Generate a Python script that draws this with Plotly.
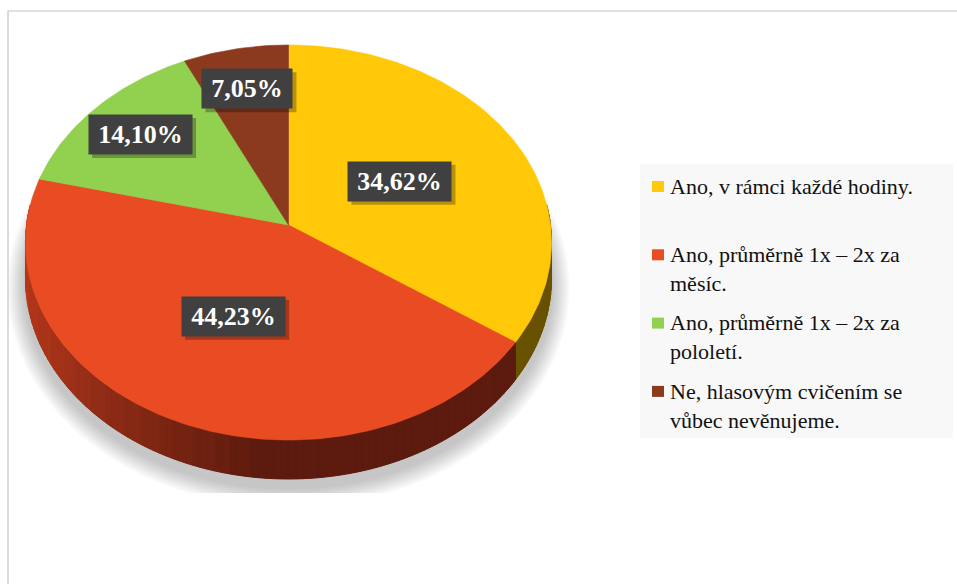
import numpy as np
import plotly.graph_objects as go

# ---- data -------------------------------------------------------------
categories = [
    "Ano, v rámci každé hodiny.",
    "Ano, průměrně 1x – 2x za měsíc.",
    "Ano, průměrně 1x – 2x za pololetí.",
    "Ne, hlasovým cvičením se vůbec nevěnujeme.",
]
shares = [34.62, 44.23, 14.10, 7.05]
legend_labels = [
    "Ano, v rámci každé hodiny.",
    "Ano, průměrně 1x – 2x za<br>měsíc.",
    "Ano, průměrně 1x – 2x za<br>pololetí.",
    "Ne, hlasovým cvičením se<br>vůbec nevěnujeme.",
]

# ---- styling ----------------------------------------------------------
SERIF = "Liberation Serif"
top_colors = ["#FFC90A", "#E94C23", "#92D050", "#8B3A1E"]
side_light = ["#7A6100", "#B5381B", "#5E8A2E", "#5A2412"]
side_dark = ["#685200", "#5C1B0E", "#4A6E24", "#4A1D0F"]

W, H = 957, 584
# plotting window in pixel units (also clips the cast shadow)
PX0, PX1, PY0, PY1 = 8, 600, 11, 493

# tilted disc: centre, radii, perspective strength and wall height
CX, CY = 288.5, 225.0
RX, RY = 262.0, 196.0
PERSP = 0.0886
DEPTH = 35.5


def project(theta, r=1.0, drop=0.0, grow=0.0):
    """Angle measured clockwise from 12 o'clock -> screen position."""
    t = np.radians(theta)
    u = r * np.sin(t)
    v = r * np.cos(t)
    w = 1 + PERSP * v
    x = CX + (RX + grow) * u / w
    y = CY + (-(RY + grow) * v + drop) / w
    return x, y


def hex2rgb(h):
    h = h.lstrip("#")
    return np.array([int(h[i:i + 2], 16) for i in (0, 2, 4)], dtype=float)


def mix(c1, c2, t):
    c = hex2rgb(c1) * (1 - t) + hex2rgb(c2) * t
    return "rgb(%d,%d,%d)" % tuple(np.round(c).astype(int))


total = sum(shares)
bounds = np.concatenate([[0], np.cumsum(shares) / total * 360.0])

fig = go.Figure()

# ---- soft cast shadow under the disc ----------------------------------
ang = np.linspace(0, 360, 181)
n_layers = 10
for j in range(n_layers):
    g = (n_layers - j) * 1.8
    sx, sy = project(ang, drop=DEPTH + 8, grow=g)
    fig.add_trace(go.Scatter(
        x=sx, y=sy, mode="lines", fill="toself",
        fillcolor="rgba(0,0,0,0.022)", line=dict(width=0),
        hoverinfo="skip", showlegend=False))

# ---- side wall: solid base + shaded strips grouped by tone ---------------
vis_lo, vis_hi = 84.0, 276.0
N_TONES = 16
for i in range(len(shares)):
    a0, a1 = max(bounds[i], vis_lo), min(bounds[i + 1], vis_hi)
    if a1 <= a0:
        continue
    arc = np.linspace(a0, a1, 80)
    xt, yt = project(arc)
    xb, yb = project(arc[::-1], drop=DEPTH)
    base = mix(side_light[i], side_dark[i], 0.6)
    fig.add_trace(go.Scatter(
        x=np.r_[xt, xb, xt[0]], y=np.r_[yt, yb, yt[0]], mode="lines",
        fill="toself", fillcolor=base, line=dict(width=0),
        hoverinfo="skip", showlegend=False))

    n = max(2, int(np.ceil((a1 - a0) / 1.5)))
    edges = np.linspace(a0, a1, n + 1)
    groups = {}
    for k in range(n):
        ta, tb = edges[k], edges[k + 1]
        seg = np.linspace(ta, tb, 4)
        xt, yt = project(seg)
        xb, yb = project(seg[::-1], drop=DEPTH)
        xm, _ = project((ta + tb) / 2)
        t = np.clip((xm - 25) / 235.0, 0, 1) ** 0.8
        tone = int(round(t * (N_TONES - 1)))
        gx, gy = groups.setdefault(tone, ([], []))
        gx.extend(list(np.r_[xt, xb, xt[0]]) + [None])
        gy.extend(list(np.r_[yt, yb, yt[0]]) + [None])
    for tone, (gx, gy) in groups.items():
        col = mix(side_light[i], side_dark[i], tone / (N_TONES - 1))
        fig.add_trace(go.Scatter(
            x=gx, y=gy, mode="lines", fill="toself", fillcolor=col,
            line=dict(width=1.0, color=col), hoverinfo="skip",
            showlegend=False))

# ---- top face slices --------------------------------------------------
cx0, cy0 = project(0.0, r=0.0)
for i, name in enumerate(categories):
    arc = np.linspace(bounds[i], bounds[i + 1], max(8, int(shares[i] * 4)))
    ax_, ay_ = project(arc)
    fig.add_trace(go.Scatter(
        x=np.r_[cx0, ax_, cx0], y=np.r_[cy0, ay_, cy0],
        mode="lines", fill="toself", fillcolor=top_colors[i],
        line=dict(width=0.6, color=top_colors[i]),
        name=name, text=f"{shares[i]:.2f} %", hoverinfo="name+text",
        showlegend=False))

# ---- value labels -------------------------------------------------------
shapes = []
for i, v in enumerate(shares):
    mid = (bounds[i] + bounds[i + 1]) / 2
    rr = 0.49 if v > 25 else 0.76
    lx, ly = project(mid, r=rr)
    label = f"{v:.2f}".replace(".", ",") + "%"
    bw = 13 * len(label) + 25
    bh = 39
    shapes.append(dict(
        type="rect", xref="x", yref="y", layer="above",
        x0=lx - bw / 2 + 3, x1=lx + bw / 2 + 4,
        y0=ly - bh / 2 + 3, y1=ly + bh / 2 + 4,
        fillcolor="rgba(0,0,0,0.28)", line=dict(width=0)))
    fig.add_annotation(
        x=lx, y=ly, xref="x", yref="y", text=f"<b>{label}</b>",
        showarrow=False, xanchor="center", yanchor="middle",
        width=bw - 4, height=bh - 4, borderpad=2,
        bgcolor="#404040",
        font=dict(family=SERIF, size=26, color="white"))

# ---- legend panel -------------------------------------------------------
LEG_X0, LEG_X1, LEG_Y0, LEG_Y1 = 640, 953, 164, 438
shapes.append(dict(
    type="rect", xref="paper", yref="paper", layer="below",
    x0=LEG_X0 / W, x1=LEG_X1 / W, y0=1 - LEG_Y1 / H, y1=1 - LEG_Y0 / H,
    fillcolor="#F8F8F8", line=dict(width=0)))
row0, row_step, line_h = 186.5, 68.3, 28.3
for i, lab in enumerate(legend_labels):
    yc = row0 + i * row_step
    shapes.append(dict(
        type="rect", xref="paper", yref="paper", layer="above",
        x0=652 / W, x1=664 / W, y0=1 - (yc + 5.5) / H, y1=1 - (yc - 5.5) / H,
        fillcolor=top_colors[i], line=dict(width=0)))
    nlines = lab.count("<br>") + 1
    ymid = yc + (nlines - 1) * line_h / 2
    fig.add_annotation(
        x=668 / W, y=1 - ymid / H, xref="paper", yref="paper",
        text=lab, showarrow=False, xanchor="left", yanchor="middle",
        align="left",
        font=dict(family=SERIF, size=22, color="#111111"))

# ---- chart frame --------------------------------------------------------
shapes.append(dict(
    type="rect", xref="paper", yref="paper", layer="above",
    x0=8 / W, x1=1.02, y0=-0.02, y1=1 - 11 / H,
    line=dict(color="#C4C4C4", width=1.2), fillcolor="rgba(0,0,0,0)"))

# pixel-unit axes: grid kept but transparent, no ticks or tick labels
axis_style = dict(visible=True, showgrid=True, gridcolor="rgba(0,0,0,0)",
                  zeroline=False, showline=False, ticks="",
                  showticklabels=False, automargin=False, fixedrange=True)
fig.update_layout(
    width=W, height=H, autosize=False,
    margin=dict(l=0, r=0, t=0, b=0),
    paper_bgcolor="white", plot_bgcolor="rgba(0,0,0,0)",
    showlegend=False,
    font=dict(family=SERIF),
    xaxis=dict(domain=[PX0 / W, PX1 / W], range=[PX0, PX1], **axis_style),
    yaxis=dict(domain=[1 - PY1 / H, 1 - PY0 / H], range=[PY1, PY0], **axis_style),
    shapes=shapes,
)

# make sure every annotation text uses the serif face
serif_css = (
    "var s=document.createElement('style');"
    "s.textContent='.annotation-text, .annotation-text tspan"
    "{font-family:\"Liberation Serif\",\"Times New Roman\",serif !important;}';"
    "document.head.appendChild(s);"
)

fig.write_html("out.html", post_script=serif_css)
